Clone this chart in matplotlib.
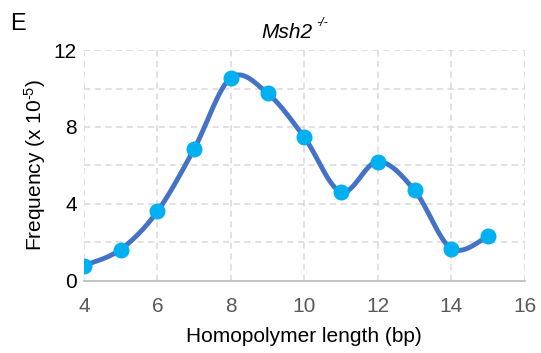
import numpy as np
import matplotlib
matplotlib.use("Agg")
import matplotlib.pyplot as plt

plt.rcParams['font.family'] = ['Liberation Sans', 'DejaVu Sans']
plt.rcParams['mathtext.fontset'] = 'custom'
plt.rcParams['mathtext.rm'] = 'Liberation Sans'
plt.rcParams['mathtext.it'] = 'Liberation Sans:italic'

lengths = [4, 5, 6, 7, 8, 9, 10, 11, 12, 13, 14, 15]
frequency = [0.78, 1.62, 3.6, 6.85, 10.56, 9.75, 7.46, 4.62, 6.2, 4.7, 1.67, 2.3]

x_ticks = [4, 6, 8, 10, 12, 14, 16]
y_ticks = [0, 4, 8, 12]


def smooth_line(xs, ys, steps=30):
    # Excel style smoothed line (Catmull-Rom through the points)
    p = np.column_stack([xs, ys]).astype(float)
    p = np.vstack([p[0], p, p[-1]])
    out = []
    for i in range(1, len(p) - 2):
        p0, p1, p2, p3 = p[i - 1], p[i], p[i + 1], p[i + 2]
        c1 = p1 + (p2 - p0) / 6
        c2 = p2 - (p3 - p1) / 6
        t = np.linspace(0, 1, steps)[:, None]
        seg = ((1 - t) ** 3) * p1 + 3 * ((1 - t) ** 2) * t * c1 \
            + 3 * (1 - t) * t ** 2 * c2 + t ** 3 * p2
        out.append(seg)
    out = np.vstack(out)
    return out[:, 0], out[:, 1]


fs = 15

fig = plt.figure(figsize=(5.41, 3.53), dpi=100)
ax = fig.add_axes([0.155, 0.205, 0.815, 0.653])

sx, sy = smooth_line(lengths, frequency)
ax.plot(sx, sy, color='#4472C4', lw=3.5, solid_capstyle='round', zorder=3)
ax.plot(lengths, frequency, 'o', color='#00B0F0', ms=10.5, mec='#00B0F0', zorder=4)

ax.set_xlim(4, 16)
ax.set_ylim(0, 12)
ax.set_xticks(x_ticks)
ax.set_yticks(y_ticks)
ax.set_yticks(np.arange(0, 13, 2), minor=True)
ax.grid(True, which='both', color='#D9D9D9', ls=(0, (4, 3)), lw=1.1)
ax.tick_params(axis='both', which='both', length=0)
ax.tick_params(axis='x', labelsize=fs, labelcolor='#595959', pad=12)
ax.tick_params(axis='y', labelsize=fs, labelcolor='black', pad=5)
for s in ['top', 'right', 'left']:
    ax.spines[s].set_visible(False)
ax.spines['bottom'].set_color('#BFBFBF')
ax.spines['bottom'].set_linewidth(1.3)
ax.set_axisbelow(True)

ax.set_xlabel('Homopolymer length (bp)', fontsize=fs, labelpad=8)
ax.set_ylabel('Frequency (x 10$^{\\mathrm{\u20105}}$)', fontsize=fs, labelpad=4)

fig.text(0.531, 0.893, 'Msh2', fontsize=fs, style='italic', ha='center')
fig.text(0.585, 0.925, '-/-', fontsize=9, style='italic', ha='left')
fig.text(0.018, 0.915, 'E', fontsize=17)

fig.savefig('out.png', dpi=100)
